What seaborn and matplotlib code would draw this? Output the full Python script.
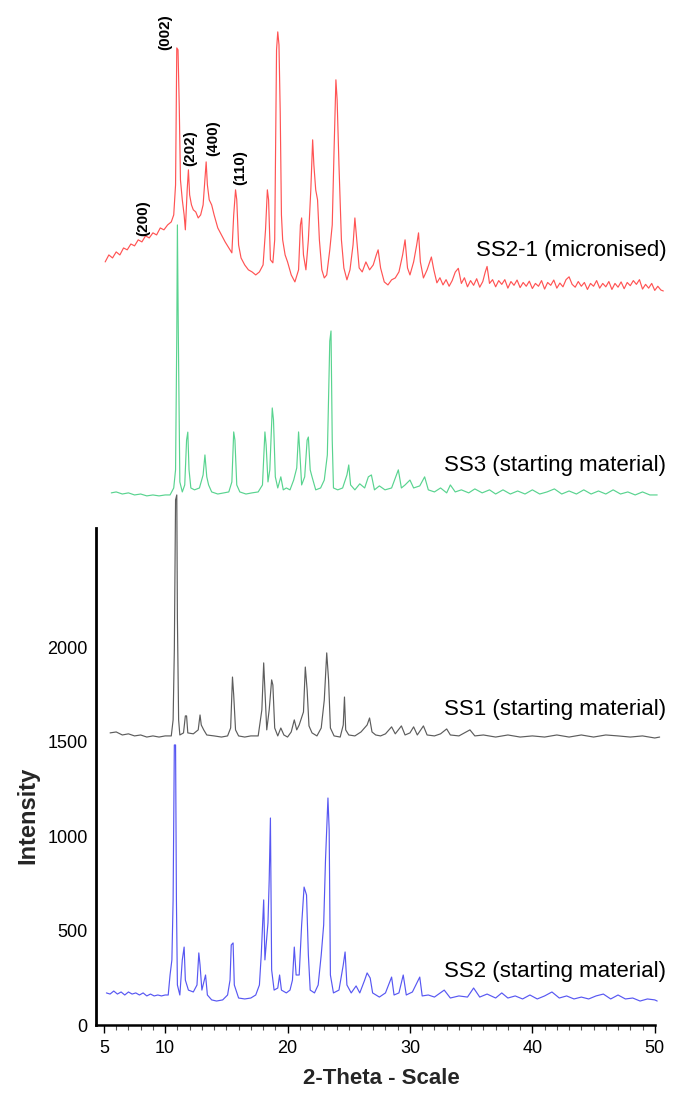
import pandas as pd
import seaborn as sns
import matplotlib.pyplot as plt
from matplotlib.ticker import FixedLocator

# Diffraction patterns (2-theta in degrees, stacked intensity)
ss21_theta = [5.1, 5.4, 5.7, 6.0, 6.3, 6.6, 6.9, 7.2, 7.5, 7.8, 8.1, 8.4, 8.7, 9.0, 9.3, 9.6, 9.9, 10.2,
              10.5, 10.7, 10.85, 10.95, 11.05, 11.15, 11.25, 11.4, 11.55, 11.65, 11.8, 11.9, 12.0, 12.15,
              12.3, 12.5, 12.7, 12.9, 13.1, 13.25, 13.35, 13.45, 13.6, 13.8, 14.0, 14.3, 14.6, 14.9, 15.2,
              15.45, 15.6, 15.75, 15.85, 16.0, 16.2, 16.5, 16.8, 17.1, 17.4, 17.7, 18.0, 18.2, 18.35,
              18.45, 18.6, 18.8, 18.95, 19.1, 19.2, 19.3, 19.4, 19.5, 19.6, 19.8, 20.0, 20.3, 20.6, 20.9,
              21.05, 21.15, 21.3, 21.5, 21.7, 21.9, 22.05, 22.15, 22.3, 22.45, 22.6, 22.8, 23.0, 23.2,
              23.45, 23.65, 23.8, 23.95, 24.05, 24.2, 24.4, 24.6, 24.85, 25.1, 25.35, 25.5, 25.65, 25.85,
              26.1, 26.4, 26.7, 27.0, 27.25, 27.4, 27.6, 27.9, 28.2, 28.5, 28.8, 29.1, 29.4, 29.6, 29.8,
              30.0, 30.3, 30.55, 30.7, 30.85, 31.1, 31.4, 31.75, 31.95,
              32.2, 32.45, 32.7, 32.95, 33.2, 33.45, 33.7, 33.95, 34.2, 34.45, 34.7, 34.95, 35.2, 35.45,
              35.7, 35.95, 36.15, 36.3, 36.5, 36.75, 37.0, 37.25, 37.5, 37.75, 38.0, 38.25, 38.5, 38.75,
              39.0, 39.25, 39.5, 39.75, 40.0, 40.25, 40.5, 40.75, 41.0, 41.25, 41.5, 41.75, 42.0, 42.25,
              42.5, 42.75, 43.0, 43.25, 43.5, 43.75, 44.0, 44.25, 44.5, 44.75, 45.0, 45.25, 45.5, 45.75,
              46.0, 46.25, 46.5, 46.75, 47.0, 47.25, 47.5, 47.75, 48.0, 48.25, 48.5, 48.75, 49.0, 49.25,
              49.5, 49.75, 50.0, 50.25, 50.5, 50.7]
ss21_int = [4044, 4081, 4065, 4097, 4081, 4118, 4108, 4139, 4129, 4161, 4150, 4182, 4171, 4198, 4187,
            4224, 4214, 4240, 4256, 4293, 4452, 5178, 5168, 4876, 4479, 4373, 4293, 4214, 4426, 4532,
            4399, 4346, 4320, 4309, 4277, 4293, 4346, 4479, 4574, 4452, 4373, 4346, 4293, 4224, 4187,
            4150, 4118, 4092, 4293, 4426, 4373, 4134, 4065, 4028, 4002, 3991, 3975, 3991, 4028, 4214,
            4426, 4373, 4055, 4039, 4161, 5168, 5263, 5194, 4839, 4293, 4161, 4081, 4044, 3975, 3938,
            4002, 4240, 4277, 4081, 4002, 4161, 4426, 4691, 4558, 4426, 4373, 4161, 4002, 3959, 3975,
            4108, 4240, 4638, 5009, 4903, 4558, 4161, 4012, 3949, 4002, 4134, 4277, 4161, 4012, 3991,
            4044, 4002, 4028, 4081, 4108, 4012, 3938, 3922, 3949, 3959, 3991, 4081, 4161, 4012, 3975,
            4044, 4134, 4198, 4044, 3959, 4002, 4070, 4002,
            3933, 3960, 3922, 3950, 3915, 3945, 3990, 4010, 3930, 3960, 3912, 3945, 3920, 3955,
            3910, 3940, 3990, 4020, 3930, 3950, 3912, 3945, 3925, 3950, 3905, 3940, 3920, 3948,
            3908, 3935, 3915, 3942, 3903, 3930, 3915, 3945, 3900, 3935, 3920, 3948, 3905, 3932,
            3912, 3950, 3965, 3925, 3910, 3940, 3915, 3935, 3898, 3930, 3915, 3945, 3905, 3930,
            3912, 3940, 3898, 3930, 3910, 3938, 3902, 3935, 3918, 3945, 3925, 3950, 3900, 3925,
            3905, 3930, 3893, 3915, 3895, 3890]

ss3_theta = [5.6, 6.0, 6.5, 7.0, 7.5, 8.0, 8.5, 9.0, 9.5, 10.0, 10.4, 10.7, 10.85, 10.95, 11.0, 11.08,
             11.2, 11.4, 11.6, 11.75, 11.85, 11.95, 12.1, 12.4, 12.8, 13.1, 13.25, 13.4, 13.55, 13.8,
             14.3, 14.8, 15.2, 15.45, 15.6, 15.7, 15.85, 16.1, 16.6, 17.1, 17.6, 17.95, 18.15, 18.25,
             18.4, 18.55, 18.75, 18.85, 19.0, 19.2, 19.45, 19.65, 19.9, 20.2, 20.5, 20.75, 20.9, 21.0,
             21.15, 21.4, 21.6, 21.7, 21.85, 22.0, 22.3, 22.7, 23.0, 23.25, 23.45, 23.55, 23.65, 23.75,
             24.1, 24.5, 24.85, 25.0, 25.15, 25.5, 25.9, 26.3, 26.6, 26.85, 27.1, 27.5, 27.96, 28.5,
             29.05, 29.3, 29.6, 30.0, 30.3, 30.8, 31.2, 31.5, 32.0, 32.5, 33.0, 33.3, 33.7, 34.2, 34.8,
             35.3, 35.9, 36.5, 37.0, 37.6, 38.2, 38.8, 39.4, 40.0, 40.6, 41.2, 41.8, 42.4, 43.0, 43.6,
             44.2, 44.8, 45.4, 46.0, 46.6, 47.2, 47.8, 48.4, 49.0, 49.6, 50.2]
ss3_int = [2820, 2825, 2814, 2820, 2809, 2814, 2804, 2809, 2804, 2809, 2809, 2846, 2942, 3657, 4240,
           3631, 2878, 2825, 2862, 3100, 3142, 2942, 2846, 2836, 2846, 2915, 3021, 2905, 2862, 2825,
           2814, 2820, 2825, 2878, 3143, 3100, 2862, 2825, 2814, 2820, 2825, 2862, 3143, 3074, 2878,
           2942, 3270, 3207, 2905, 2846, 2905, 2836, 2846, 2836, 2888, 2952, 3143, 3037, 2862, 2905,
           3100, 3116, 2942, 2905, 2836, 2846, 2888, 3021, 3625, 3678, 3100, 2846, 2836, 2846, 2915,
           2968, 2862, 2836, 2868, 2846, 2905, 2915, 2836, 2857, 2836, 2846, 2942, 2846, 2862, 2888,
           2846, 2857, 2905, 2836, 2825, 2846, 2820, 2862, 2825, 2836, 2820, 2841, 2820, 2836, 2814,
           2836, 2814, 2830, 2814, 2836, 2814, 2825, 2841, 2814, 2830, 2814, 2836, 2814, 2830, 2814,
           2836, 2814, 2825, 2809, 2825, 2809, 2809]

ss1_theta = [5.5, 6.0, 6.5, 7.0, 7.5, 8.0, 8.5, 9.0, 9.5, 10.0, 10.5, 10.65, 10.75, 10.85, 10.95, 11.0,
             11.1, 11.2, 11.5, 11.65, 11.75, 11.85, 12.3, 12.7, 12.85, 12.95, 13.15, 13.4, 14.0, 14.6,
             15.1, 15.35, 15.5, 15.6, 15.75, 16.0, 16.5, 17.0, 17.6, 17.9, 18.05, 18.15, 18.3, 18.5,
             18.7, 18.8, 18.95, 19.2, 19.45, 19.7, 20.0, 20.3, 20.55, 20.75, 20.95, 21.3, 21.45, 21.6,
             21.75, 22.0, 22.4, 22.75, 23.0, 23.2, 23.35, 23.5, 23.8, 24.3, 24.55, 24.65, 24.75, 25.0,
             25.5, 26.0, 26.5, 26.7, 26.9, 27.2, 27.6, 28.0, 28.5, 28.8, 29.3, 29.6, 30.0, 30.3, 30.6,
             31.1, 31.4, 32.0, 32.5, 33.0, 33.3, 34.0, 34.9, 35.3, 36.0, 37.0, 38.0, 39.0, 40.0, 41.0,
             42.0, 43.0, 44.0, 45.0, 46.0, 47.0, 48.0, 49.0, 50.0, 50.4]
ss1_int = [1548, 1553, 1537, 1543, 1532, 1537, 1526, 1532, 1526, 1532, 1532, 1617, 1988, 2783, 2809,
           2157, 1617, 1537, 1548, 1638, 1638, 1548, 1543, 1564, 1643, 1590, 1564, 1537, 1532, 1526,
           1532, 1574, 1844, 1749, 1564, 1532, 1526, 1532, 1532, 1670, 1919, 1775, 1564, 1670, 1829,
           1802, 1574, 1532, 1574, 1537, 1526, 1553, 1617, 1564, 1590, 1659, 1897, 1775, 1585, 1548,
           1532, 1574, 1722, 1972, 1829, 1574, 1532, 1526, 1590, 1738, 1564, 1537, 1532, 1553, 1590,
           1627, 1553, 1537, 1532, 1543, 1580, 1543, 1585, 1537, 1548, 1580, 1537, 1585, 1537, 1532,
           1543, 1569, 1537, 1532, 1564, 1532, 1537, 1526, 1537, 1526, 1532, 1526, 1537, 1526, 1537,
           1526, 1537, 1532, 1526, 1532, 1521, 1526]

ss2_theta = [5.2, 5.5, 5.8, 6.1, 6.4, 6.7, 7.0, 7.3, 7.6, 7.9, 8.2, 8.5, 8.8, 9.1, 9.4, 9.7, 10.0,
             10.25, 10.4, 10.55, 10.65, 10.75, 10.85, 10.92, 11.0, 11.2, 11.4, 11.55, 11.65, 11.9, 12.3,
             12.6, 12.75, 12.85, 13.0, 13.3, 13.45, 13.8, 14.2, 14.7, 15.1, 15.3, 15.4, 15.55, 15.65,
             16.0, 16.5, 17.0, 17.4, 17.7, 17.85, 18.05, 18.15, 18.4, 18.5, 18.6, 18.7, 18.9, 19.2,
             19.35, 19.5, 19.9, 20.2, 20.4, 20.55, 20.7, 20.95, 21.15, 21.35, 21.55, 21.7, 21.85, 22.2,
             22.5, 22.75, 22.95, 23.1, 23.3, 23.4, 23.5, 23.75, 24.2, 24.55, 24.7, 24.85, 25.2, 25.6,
             25.9, 26.3, 26.5, 26.75, 26.95, 27.5, 28.0, 28.5, 28.7, 29.1, 29.45, 29.7, 30.2, 30.8,
             31.0, 31.5, 32.0, 32.8, 33.3, 34.0, 34.7, 35.2, 35.7, 36.3, 37.0, 37.5, 38.0, 38.6, 39.2,
             39.8, 40.4, 41.0, 41.6, 42.2, 42.8, 43.4, 44.0, 44.6, 45.2, 45.8, 46.4, 47.0, 47.6, 48.2,
             48.8, 49.4, 50.0, 50.2]
ss2_int = [170, 164, 180, 164, 175, 159, 175, 164, 170, 159, 170, 154, 164, 154, 159, 154, 159, 159,
           265, 345, 663, 1484, 1484, 663, 212, 159, 345, 413, 238, 185, 175, 212, 382, 318, 185, 265,
           159, 133, 127, 133, 159, 238, 424, 435, 212, 143, 138, 143, 159, 212, 371, 663, 345, 541,
           769, 1097, 292, 185, 196, 265, 185, 170, 185, 238, 413, 265, 265, 530, 731, 689, 371, 185,
           170, 212, 371, 530, 875, 1203, 1034, 265, 170, 185, 318, 387, 212, 170, 207, 170, 238, 276,
           249, 170, 148, 170, 254, 159, 170, 265, 159, 175, 254, 154, 159, 148, 185, 143, 154, 148,
           196, 148, 164, 143, 170, 143, 154, 138, 159, 138, 154, 175, 143, 154, 138, 148, 138, 154,
           164, 138, 159, 138, 143, 127, 138, 133, 127]

pattern_names = ['SS2-1 (micronised)', 'SS3 (starting material)',
                 'SS1 (starting material)', 'SS2 (starting material)']
pattern_colors = ['#ff3535', '#3ccc7c', '#404040', '#3a3af0']
label_y = [4074, 2934, 1645, 255]

hkl_labels = ['(200)', '(002)', '(202)', '(400)', '(110)']
hkl_theta = [8.19, 9.99, 12.03, 13.91, 16.11]
hkl_y = [4277, 5263, 4648, 4701, 4542]

frames = []
for name, th, it in zip(pattern_names,
                        [ss21_theta, ss3_theta, ss1_theta, ss2_theta],
                        [ss21_int, ss3_int, ss1_int, ss2_int]):
    frames.append(pd.DataFrame({'two_theta': th, 'intensity': it, 'pattern': name}))
df = pd.concat(frames, ignore_index=True)

sns.set_theme(style='white')
plt.rcParams['font.family'] = ['Liberation Sans', 'DejaVu Sans']

fig = plt.figure(figsize=(6.73, 10.93), dpi=100)
ax = fig.add_axes([96 / 673, 68 / 1093, 571 / 673, 1025 / 1093])

sns.lineplot(data=df, x='two_theta', y='intensity', hue='pattern',
             hue_order=pattern_names[::-1], palette=dict(zip(pattern_names, pattern_colors)),
             estimator=None, sort=False, legend=False, lw=0.85, alpha=0.85, ax=ax)

for name, yv in zip(pattern_names, label_y):
    ax.text(50.95, yv, name, ha='right', va='baseline', fontsize=16, color='black')

for lab, xv, yv in zip(hkl_labels, hkl_theta, hkl_y):
    ax.text(xv, yv, lab, rotation=90, ha='center', va='center',
            fontsize=11, fontweight='bold', color='black')

ax.set_xlim(4.35, 51.0)
ax.set_ylim(0, 5432)

# axis styling
ax.spines['top'].set_visible(False)
ax.spines['right'].set_visible(False)
ax.spines['left'].set_bounds(0, 2634)
ax.spines['left'].set_linewidth(2.0)
ax.spines['left'].set_color('black')
ax.spines['bottom'].set_bounds(4.35, 50)
ax.spines['bottom'].set_linewidth(1.8)
ax.spines['bottom'].set_color('black')

ax.set_yticks([0, 500, 1000, 1500, 2000])
ax.tick_params(axis='y', length=0, pad=6, labelsize=13, colors='black')
ax.xaxis.set_major_locator(FixedLocator([5, 10, 20, 30, 40, 50]))
ax.xaxis.set_minor_locator(FixedLocator(list(range(5, 51))))
ax.tick_params(axis='x', which='major', bottom=True, length=6, width=1, pad=5,
               labelsize=13, colors='black', direction='out')
ax.tick_params(axis='x', which='minor', bottom=True, length=3.5, width=0.8,
               color='#555555', direction='out')

ax.set_xlabel('2-Theta - Scale', fontsize=16, fontweight='bold', labelpad=8)
ax.set_ylabel('Intensity', fontsize=17, fontweight='bold')
ax.yaxis.set_label_coords(-0.1, 0.205)

fig.savefig('out.png', dpi=100)
